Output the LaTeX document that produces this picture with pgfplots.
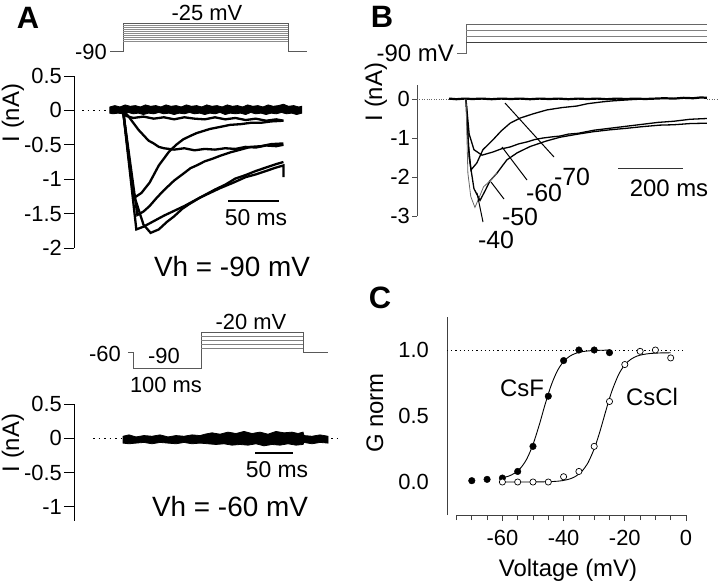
\documentclass[border=0pt]{standalone}
\usepackage{fontspec}
\setmainfont{Liberation Sans}
\usepackage{pgfplots}
\pgfplotsset{compat=1.18}
\newcommand{\fs}[1]{\fontsize{#1}{#1}\selectfont}
\pgfplotsset{panel/.style={scale only axis, anchor=south west, clip=false,
  axis x line=none, axis y line=left, xtick=\empty,
  axis line style={-, line width=1bp, black},
  tick align=outside, ytick style={line width=1bp, black}}}
\begin{document}
\begin{tikzpicture}
\path[use as bounding box] (0,0) rectangle (720bp,-585bp);

% ---------------- Panel A (Vh = -90 mV) ----------------
\begin{axis}[panel, width=236bp, height=172bp, at={(74bp,-248bp)},
  xmin=-48, xmax=183, ymin=-2, ymax=0.5,
  ytick={-2,-1.5,-1,-0.5,0,0.5}, yticklabels={-2,-1.5,-1,-0.5,0,0.5},
  major tick length=10bp,
  yticklabel style={font=\fs{22}, inner sep=2bp}]
\addplot[black, line width=1.5bp, dash pattern=on 1.5bp off 4bp] coordinates {(-40,0)(-13,0)};
\addplot[fill=black, draw=black, line width=0.8bp] coordinates {(-13,0.05)(-8,0.07)(-3,0.05)(2,0.08)(7,0.06)(12,0.07)(17,0.05)(22,0.08)(27,0.06)(32,0.07)(37,0.05)(42,0.08)(47,0.06)(52,0.07)(57,0.05)(62,0.08)(67,0.06)(72,0.07)(77,0.05)(82,0.08)(87,0.06)(92,0.07)(97,0.05)(102,0.08)(107,0.06)(112,0.07)(117,0.05)(122,0.08)(127,0.06)(132,0.07)(137,0.05)(142,0.08)(147,0.06)(152,0.07)(157,0.09)(162,0.06)(167,0.07)(172,0.05)(175,0.06)
(175,-0.04)(170,-0.06)(165,-0.04)(160,-0.05)(155,-0.03)(150,-0.05)(145,-0.04)(140,-0.06)(135,-0.04)(130,-0.05)(125,-0.03)(120,-0.06)(115,-0.04)(110,-0.05)(105,-0.04)(100,-0.06)(95,-0.03)(90,-0.05)(85,-0.04)(80,-0.06)(75,-0.04)(70,-0.05)(65,-0.03)(60,-0.05)(55,-0.04)(50,-0.06)(45,-0.04)(40,-0.05)(35,-0.03)(30,-0.05)(25,-0.04)(20,-0.06)(15,-0.04)(10,-0.05)(5,-0.03)(0,-0.05)(-5,-0.04)(-10,-0.05)(-13,-0.04)(-13,0.05)};
\addplot[black, line width=2.3bp] coordinates {(0,0)(3,-0.08)(10,-0.11)(20,-0.09)(30,-0.12)(40,-0.1)(50,-0.13)(60,-0.1)(70,-0.12)(80,-0.13)(90,-0.1)(100,-0.13)(110,-0.11)(120,-0.14)(130,-0.12)(140,-0.15)(150,-0.13)(157,-0.15)};
\addplot[black, line width=2.3bp] coordinates {(0,0)(5,-0.08)(10,-0.18)(15,-0.28)(20,-0.36)(25,-0.44)(30,-0.48)(35,-0.53)(40,-0.55)(50,-0.57)(60,-0.55)(70,-0.58)(80,-0.56)(90,-0.57)(100,-0.55)(110,-0.56)(120,-0.53)(130,-0.54)(140,-0.51)(150,-0.52)(157,-0.5)};
\addplot[black, line width=2.3bp] coordinates {(0,0)(10,-1.22)(13,-1.25)(18,-1.2)(26,-1.05)(35,-0.8)(45,-0.6)(52,-0.5)(59,-0.42)(66,-0.37)(72,-0.33)(85,-0.27)(95,-0.24)(105,-0.21)(115,-0.2)(125,-0.18)(135,-0.18)(145,-0.16)(157,-0.15)};
\addplot[black, line width=2.3bp] coordinates {(0,0)(14,-1.52)(20,-1.47)(26,-1.39)(33,-1.27)(40,-1.16)(50,-1.02)(59,-0.92)(66,-0.84)(72,-0.8)(80,-0.74)(88,-0.7)(95,-0.66)(105,-0.61)(115,-0.57)(125,-0.53)(135,-0.52)(145,-0.49)(157,-0.48)};
\addplot[black, line width=2.3bp] coordinates {(0,0)(13,-1.73)(20,-1.69)(30,-1.61)(40,-1.53)(50,-1.46)(60,-1.39)(70,-1.31)(80,-1.23)(90,-1.15)(100,-1.08)(110,-0.99)(120,-0.94)(130,-0.88)(140,-0.83)(150,-0.78)(157,-0.75)};
\addplot[black, line width=2.3bp] coordinates {(0,0)(10,-1.2)(20,-1.66)(27,-1.78)(35,-1.73)(43,-1.62)(50,-1.54)(58,-1.43)(65,-1.36)(75,-1.27)(85,-1.2)(95,-1.13)(108,-1.05)(120,-0.97)(130,-0.93)(140,-0.88)(150,-0.83)(157,-0.8)(157,-0.97)};
\end{axis}

% ---------------- Panel A (Vh = -60 mV) ----------------
\begin{axis}[panel, width=270bp, height=116.6bp, at={(74bp,-520.6bp)},
  xmin=0, xmax=270, ymin=-1.2, ymax=0.5,
  ytick={-1,-0.5,0,0.5}, yticklabels={-1,-0.5,0,0.5},
  major tick length=10bp,
  yticklabel style={font=\fs{22}, inner sep=2bp}]
\addplot[black, line width=1.5bp, dash pattern=on 1.5bp off 4bp] coordinates {(19,0)(49,0)};
\addplot[black, line width=1.5bp, dash pattern=on 1.5bp off 4bp] coordinates {(257,0)(264,0)};
\addplot[fill=black, draw=black, line width=0.8bp] coordinates {(49,0.03)(55,0.05)(62,0.02)(70,0.04)(78,0.03)(86,0.05)(94,0.02)(102,0.04)(110,0.03)(118,0.05)(126,0.04)(131,0.06)(138,0.08)(146,0.06)(154,0.09)(162,0.07)(170,0.1)(178,0.07)(186,0.09)(194,0.06)(202,0.1)(210,0.08)(218,0.09)(224,0.07)(229,0.09)(230,0.04)(238,0.03)(246,0.05)(254,0.03)
(254,-0.07)(246,-0.06)(238,-0.08)(230,-0.06)(229,-0.09)(222,-0.1)(214,-0.08)(206,-0.1)(198,-0.09)(190,-0.11)(182,-0.08)(174,-0.1)(166,-0.09)(158,-0.1)(150,-0.08)(142,-0.09)(134,-0.08)(126,-0.07)(118,-0.08)(110,-0.06)(102,-0.08)(94,-0.07)(86,-0.06)(78,-0.08)(70,-0.06)(62,-0.07)(55,-0.08)(49,-0.07)(49,0.03)};
\end{axis}

% ---------------- Panel B ----------------
\begin{axis}[panel, width=300bp, height=130.65bp, at={(417bp,-216bp)},
  xmin=-153, xmax=784.5, ymin=-3, ymax=0.35,
  axis line style={-, line width=0.6bp, black!70},
  ytick={-3,-2,-1,0}, yticklabels={-3,-2,-1,0},
  major tick length=5bp, ytick style={line width=0.6bp, black!70},
  yticklabel style={font=\fs{22}, inner sep=2bp}]
\addplot[black!60, line width=0.7bp, dash pattern=on 0.8bp off 1.6bp] coordinates {(-153,0)(-53,0)};
\addplot[black!60, line width=0.7bp, dash pattern=on 0.8bp off 1.6bp] coordinates {(753,0)(784,0)};
\addplot[black, line width=2.2bp] coordinates {(-53,0.01)(-30,-0.005)(-5,0.01)(20,0.0)(50,0.01)(80,-0.005)(110,0.01)(140,0.0)(170,0.01)(200,-0.005)(230,0.01)(260,0.0)(290,0.01)(320,-0.005)(350,0.01)(380,0.0)(410,0.01)(440,-0.005)(470,0.01)(500,0.0)(530,0.01)(560,0.0)(590,0.01)(620,0.02)(650,0.01)(680,0.03)(710,0.02)(735,0.04)(753,0.03)};
% -70
\addplot[black, line width=1.3bp] coordinates {(0,0)(8,-1.2)(15.6,-1.82)(34,-1.64)(53,-1.3)(84,-1.05)(110,-0.82)(138,-0.62)(169,-0.49)(210,-0.38)(253,-0.28)(300,-0.22)(347,-0.18)(380,-0.12)(419,-0.08)(455,-0.05)(491,-0.03)(530,-0.01)(575,0)};
% -60
\addplot[black, line width=1.3bp] coordinates {(0,0)(10,-0.9)(25,-1.3)(50,-1.44)(84,-1.36)(110,-1.28)(138,-1.23)(165,-1.15)(191,-1.1)(215,-1.04)(241,-1.0)(270,-0.97)(294,-0.95)(320,-0.9)(350,-0.88)(400,-0.8)(450,-0.75)(500,-0.7)(550,-0.65)(600,-0.6)(650,-0.57)(700,-0.52)(753,-0.5)};
% -50
\addplot[black, line width=1.3bp] coordinates {(0,0)(10,-1.5)(25,-2.3)(44,-2.6)(60,-2.35)(75,-2.1)(97,-1.9)(115,-1.7)(128,-1.56)(160,-1.38)(200,-1.22)(250,-1.08)(294,-0.98)(350,-0.9)(397,-0.84)(450,-0.79)(503,-0.75)(550,-0.71)(606,-0.67)(650,-0.66)(700,-0.63)(753,-0.62)};
% -40
\addplot[black!60, line width=0.8bp] coordinates {(0,0)(6,-1.9)(15,-2.5)(28,-2.78)(40,-2.55)(55,-2.25)(75,-2.1)(97,-1.9)};
\end{axis}

% ---------------- Panel C ----------------
\begin{axis}[scale only axis, anchor=south west, clip=false,
  width=239bp, height=198bp, at={(447bp,-515bp)},
  xmin=-78.1, xmax=0, ymin=-0.25, ymax=1.25,
  axis lines=left, axis line style={-, line width=0.7bp, black!75},
  x axis line style={shorten <=10bp},
  xtick={-60,-40,-20,0}, xticklabels={-60,-40,-20,0},
  minor xtick={-75,-70,-65,-55,-50,-45,-35,-30,-25,-15,-10,-5},
  ytick={0,0.5,1}, yticklabels={0.0,0.5,1.0},
  tick align=outside, major tick length=6bp, minor tick length=5bp,
  xtick style={line width=0.7bp, black!75}, ytick style={draw=none},
  xticklabel style={font=\fs{22}, inner sep=3bp, yshift=-6bp},
  yticklabel style={font=\fs{22}, inner sep=3bp, xshift=-9bp}]
\addplot[black, line width=1bp, dash pattern=on 1.2bp off 3bp] coordinates {(-78.1,1)(0,1)};
\addplot[black, line width=0.9bp, smooth] coordinates {(-60,0.033)(-58,0.044)(-56,0.067)(-54,0.107)(-52,0.176)(-50,0.284)(-48,0.429)(-47,0.51)(-46,0.591)(-44,0.736)(-42,0.844)(-40,0.913)(-38,0.953)(-36,0.975)(-34,0.987)(-32,0.993)(-30,0.996)(-28,0.998)(-25,0.999)};
\addplot[black, line width=0.9bp, smooth] coordinates {(-60,0)(-55,0.0001)(-50,0.0004)(-45,0.0023)(-42,0.006)(-40,0.012)(-38,0.023)(-36,0.044)(-34,0.082)(-32,0.147)(-30,0.251)(-29,0.318)(-28,0.393)(-27,0.474)(-26,0.555)(-25,0.633)(-24,0.703)(-22,0.815)(-20,0.888)(-18,0.93)(-16,0.954)(-14,0.966)(-12,0.973)(-10,0.976)(-8,0.978)(-5,0.979)};
\addplot[only marks, mark=*, mark size=3.3bp, mark options={fill=black, draw=black}] coordinates {(-70,0.01)(-65,0.02)(-60,0.03)(-55,0.08)(-50,0.27)(-45,0.65)(-40,0.92)(-35,1.0)(-30,1.0)(-25,0.98)};
\addplot[only marks, mark=*, mark size=3.1bp, mark options={fill=white, draw=black, line width=0.7bp}] coordinates {(-60,0)(-55,0)(-50,0)(-45,0)(-40,0.04)(-35,0.08)(-30,0.27)(-25,0.61)(-20,0.89)(-15,0.99)(-10,1.0)(-5,0.94)};
\end{axis}

% ---------------- Overlay: protocols, labels, scale bars ----------------
\begin{axis}[scale only axis, anchor=south west, at={(0bp,-585bp)},
  width=720bp, height=585bp, xmin=0, xmax=720, ymin=0, ymax=585,
  y dir=reverse, axis lines=none, clip=false]
% panel letters
\node[font=\fs{31}\bfseries] at (axis cs:28,18) {A};
\node[font=\fs{31}\bfseries] at (axis cs:382,17) {B};
\node[font=\fs{31}\bfseries] at (axis cs:380,298) {C};
% A top protocol
\addplot[black!65, line width=0.6bp] coordinates {(110,51)(123,51)(123,23)(288,23)(288,51)(307,51)};
\addplot[black!45, line width=0.5bp] coordinates {(123,25)(288,25)};
\addplot[black!45, line width=0.5bp] coordinates {(123,27)(288,27)};
\addplot[black!45, line width=0.5bp] coordinates {(123,29)(288,29)};
\addplot[black!45, line width=0.5bp] coordinates {(123,31)(288,31)};
\addplot[black!45, line width=0.5bp] coordinates {(123,33)(288,33)};
\addplot[black!45, line width=0.5bp] coordinates {(123,35)(288,35)};
\addplot[black!45, line width=0.5bp] coordinates {(123,37)(288,37)};
\addplot[black!45, line width=0.5bp] coordinates {(123,39)(288,39)};
\addplot[black!45, line width=0.5bp] coordinates {(123,41)(288,41)};
\node[font=\fs{22}] at (axis cs:207,13) {-25 mV};
\node[font=\fs{22}, anchor=east, inner sep=1bp] at (axis cs:108,52) {-90};
% A scale bar + labels
\addplot[black, line width=1.2bp] coordinates {(228,201)(279,201)};
\node[font=\fs{23}] at (axis cs:256,218) {50 ms};
\node[font=\fs{28}] at (axis cs:232,267) {Vh = -90 mV};
\node[font=\fs{24}, rotate=90] at (axis cs:13,113) {I (nA)};
% A bottom protocol
\addplot[black!65, line width=0.6bp] coordinates {(128,352)(133,352)(133,368)(201,368)(201,332)(303,332)(303,352)(328,352)};
\addplot[black!50, line width=0.5bp] coordinates {(201,336)(303,336)};
\addplot[black!50, line width=0.5bp] coordinates {(201,340)(303,340)};
\addplot[black!50, line width=0.5bp] coordinates {(201,344)(303,344)};
\addplot[black!50, line width=0.5bp] coordinates {(201,348)(303,348)};
\node[font=\fs{22}, anchor=east, inner sep=1bp] at (axis cs:122,354) {-60};
\node[font=\fs{22}] at (axis cs:164,356) {-90};
\node[font=\fs{22}] at (axis cs:166,385) {100 ms};
\node[font=\fs{22}] at (axis cs:251,322) {-20 mV};
\addplot[black, line width=1.2bp] coordinates {(255,453)(293,453)};
\node[font=\fs{23}] at (axis cs:277,470) {50 ms};
\node[font=\fs{28}] at (axis cs:230,507) {Vh = -60 mV};
\node[font=\fs{24}, rotate=90] at (axis cs:13,443) {I (nA)};
% B protocol
\addplot[black!60, line width=0.6bp] coordinates {(457,53)(466,53)(466,24)(707,24)};
\addplot[black!50, line width=0.6bp] coordinates {(466,30)(707,30)};
\addplot[black!50, line width=0.6bp] coordinates {(466,36)(707,36)};
\addplot[black!75, line width=0.9bp] coordinates {(466,42)(707,42)};
\node[font=\fs{24}, anchor=east, inner sep=1bp] at (axis cs:455,53) {-90 mV};
\node[font=\fs{24}, rotate=90] at (axis cs:376,92) {I (nA)};
% B scale bar and voltage labels
\addplot[black!80, line width=0.9bp] coordinates {(618,168)(683,168)};
\node[font=\fs{24}] at (axis cs:669,188) {200 ms};
\addplot[black, line width=1bp] coordinates {(505,103)(554,157)};
\addplot[black, line width=1bp] coordinates {(502,147)(527,180)};
\addplot[black, line width=1bp] coordinates {(491,182)(504,199)};
\addplot[black, line width=1bp] coordinates {(477,193)(483,222)};
\node[font=\fs{25}] at (axis cs:572,177) {-70};
\node[font=\fs{25}] at (axis cs:544,193) {-60};
\node[font=\fs{25}] at (axis cs:520,217) {-50};
\node[font=\fs{25}] at (axis cs:496,240) {-40};
% C labels
\node[font=\fs{24}] at (axis cs:522,388) {CsF};
\node[font=\fs{24}] at (axis cs:652,397) {CsCl};
\node[font=\fs{24}] at (axis cs:568,570) {Voltage (mV)};
\node[font=\fs{24}, rotate=90] at (axis cs:375,413) {G norm};
\end{axis}
\end{tikzpicture}
\end{document}
